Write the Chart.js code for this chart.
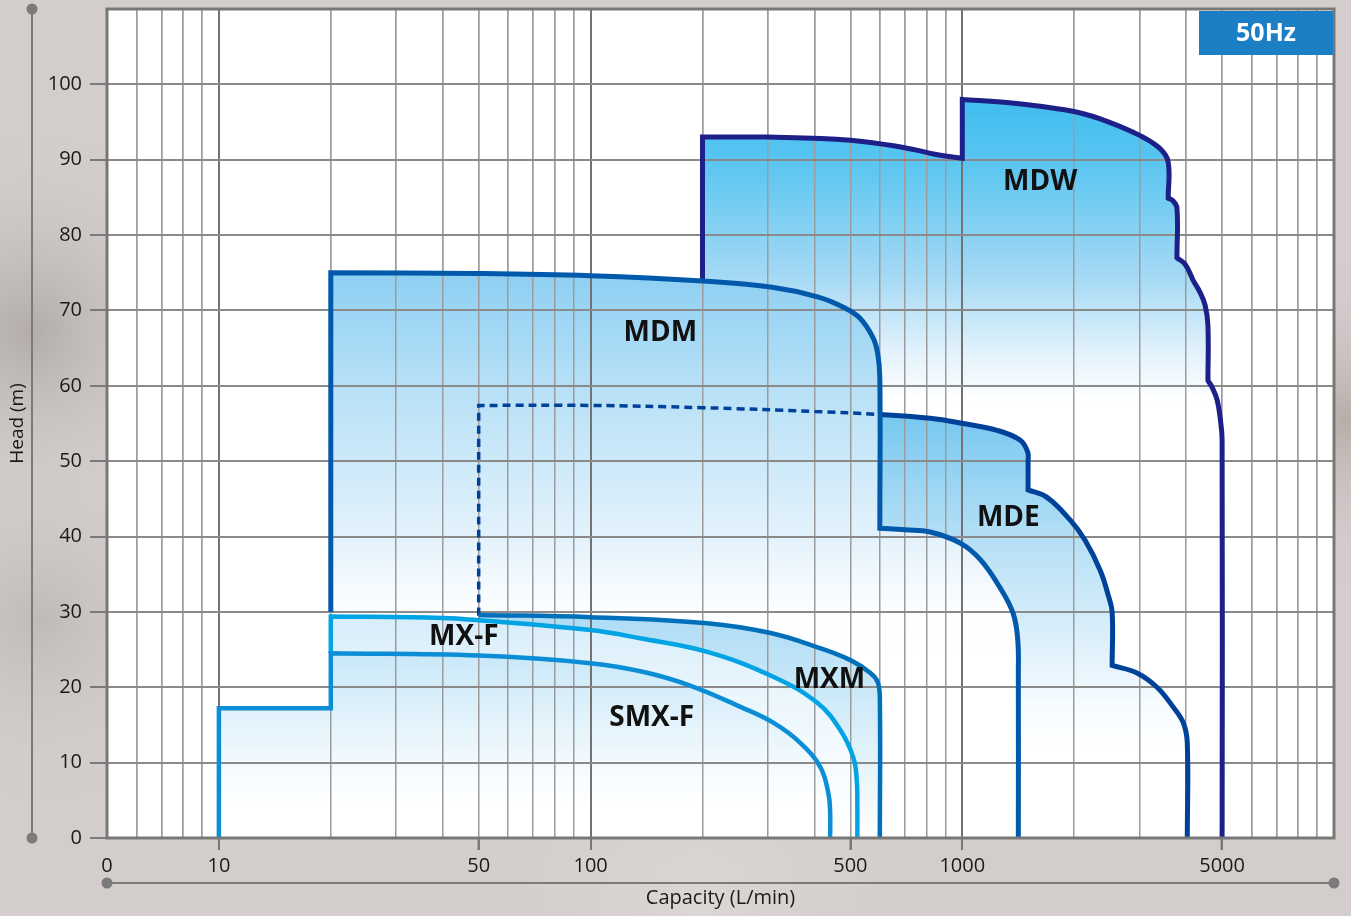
<!DOCTYPE html>
<html>
<head>
<meta charset="utf-8">
<title>Pump ranges 50Hz</title>
<script src="https://cdn.jsdelivr.net/npm/chart.js@4.4.1/dist/chart.umd.min.js"></script>
<style>
  html, body { margin: 0; padding: 0; background: #d3cecb; }
  #wrap { width: 1351px; height: 916px; }
</style>
</head>
<body>
<div id="wrap"><canvas id="graph" width="1351" height="916"></canvas></div>
<script>
// outline of each pump range, capacity (L/min) against head (m)
const smxfQ = [10, 10, 20, 20, 50, 100, 140, 186, 253, 310, 367, 415, 436, 441, 441]
const smxfH = [0, 17.2, 17.2, 24.5, 24.2, 23.2, 22.0, 20.2, 17.4, 15.3, 12.6, 9.4, 6.0, 3.5, 0]

const mxfQ = [20, 20, 40, 50, 100, 136, 206, 310, 408, 470, 509, 520, 522, 522]
const mxfH = [24.5, 29.4, 29.2, 28.9, 27.6, 26.5, 24.7, 21.4, 17.9, 14.3, 10.7, 7.7, 4, 0]

const mxmQ = [50, 100, 206, 305, 408, 500, 566, 592, 600, 600]
const mxmH = [29.6, 29.3, 28.5, 27.2, 25.3, 23.6, 21.9, 20.7, 18.5, 0]

const mdmQ = [20, 20, 50, 100, 200, 305, 408, 480, 530, 575, 592, 600, 600, 700, 820, 990, 1120, 1260, 1370, 1410, 1415, 1415]
const mdmH = [30, 75, 74.9, 74.6, 73.9, 73.1, 71.8, 70.4, 69.0, 66.4, 64.3, 61, 41.1, 40.9, 40.6, 39.1, 36.9, 33.3, 29.8, 26.3, 22, 0]

// MDE is dashed up to 600 L/min
const mdeQ = [50, 50, 100, 200, 400, 600, 820, 1006, 1240, 1430, 1500, 1503, 1503, 1690, 1950, 2140, 2350, 2470, 2530, 2530, 2950, 3340, 3690, 3930, 4030, 4030]
const mdeH = [29.5, 57.4, 57.4, 57.1, 56.6, 56.2, 55.7, 55.0, 54.1, 52.8, 51.2, 50, 46.2, 45.2, 42.2, 39.5, 35.5, 32.2, 30, 22.9, 21.9, 20.0, 17.4, 15.3, 12.6, 0]

const mdwQ = [200, 200, 300, 500, 700, 850, 1000, 1000, 1320, 1620, 2040, 2450, 3010, 3400, 3580, 3580, 3680, 3780, 3780, 3980, 4180, 4360, 4500, 4580, 4580, 4700, 4850, 4950, 5000, 5000]
const mdwH = [74, 93, 93, 92.6, 91.6, 90.7, 90.2, 98, 97.6, 97.1, 96.3, 95.1, 93.2, 91.5, 89.7, 84.9, 84.6, 83.6, 77, 76.1, 74.0, 72.4, 70.7, 68.0, 60.7, 59.8, 58.1, 55.4, 52.8, 0]

// points where the outline has a hard corner (index into the arrays above)
const smxfCorners = [1, 2, 3]
const mxfCorners = [1]
const mxmCorners = []
const mdmCorners = [1, 12]
const mdeCorners = [1, 12, 19]
const mdwCorners = [1, 6, 7, 15, 18, 24]

const modelNames = ['MDW', 'MDM', 'MDE', 'MX-F', 'MXM', 'SMX-F']
const labelQ = [1620, 154, 1330, 45.6, 439, 146]
const labelH = [87.1, 67.0, 42.4, 26.7, 21.0, 15.9]

const xGrid = [5, 6, 7, 8, 9, 10, 20, 30, 40, 50, 60, 70, 80, 90, 100, 200, 300, 400, 500, 600, 700, 800, 900,
  1000, 2000, 3000, 4000, 5000, 6000, 7000, 8000, 9000, 10000]
const xLabelValues = [5, 10, 50, 100, 500, 1000, 5000]
const xLabelText = ['0', '10', '50', '100', '500', '1000', '5000']
const decades = [10, 100, 1000, 10000]

// a corner point is given twice so the smoothing keeps it sharp
const toPoints = (qs, hs, corners) => {
  const pts = []
  qs.forEach((q, i) => {
    pts.push({ x: q, y: hs[i] })
    if (corners.includes(i)) pts.push({ x: q, y: hs[i] })
  })
  return pts
}

// vertical fade for each area, given as [head, colour]
const shade = (stops) => (ctx) => {
  const { chart } = ctx
  if (!chart.chartArea) return 'rgba(0,0,0,0)'
  const y = chart.scales.y
  const top = y.getPixelForValue(stops[0][0])
  const bot = y.getPixelForValue(stops[stops.length - 1][0])
  const g = chart.ctx.createLinearGradient(0, top, 0, bot)
  stops.forEach(([v, c]) => g.addColorStop((y.getPixelForValue(v) - top) / (bot - top), c))
  return g
}

const area = (label, qs, hs, corners, line, width, stops, extra = {}) => ({
  label,
  data: toPoints(qs, hs, corners),
  borderColor: line,
  borderWidth: width,
  backgroundColor: shade(stops),
  fill: 'origin',
  pointRadius: 0,
  tension: 0.4,
  ...extra,
})

const dashedPart = (ctx) => ctx.chart.data.datasets[ctx.datasetIndex].data[ctx.p1DataIndex].x <= 600

// first in list is drawn on top
const datasets = [
  area('SMX-F', smxfQ, smxfH, smxfCorners, '#0b8ed6', 4.5, [[24.5, '#c9e8f9'], [16, '#e1f2fb'], [9, '#f5fbfe'], [4, '#ffffff']]),
  area('MX-F', mxfQ, mxfH, mxfCorners, '#00a3e4', 4.5, [[29.5, '#d6edfa'], [20, '#e9f5fc'], [8, '#f8fcff'], [0, '#ffffff']]),
  area('MXM', mxmQ, mxmH, mxmCorners, '#0070ba', 4.5, [[29.5, '#addcf5'], [17, '#d3ecf9'], [5, '#f2f9fe'], [0, '#ffffff']]),
  area('MDM', mdmQ, mdmH, mdmCorners, '#0059aa', 5, [[75, '#8dcff2'], [61, '#b4dff6'], [50, '#cde9f9'], [40, '#e3f2fc'], [31, '#fbfdff'], [25, '#ffffff']]),
  area('MDE', mdeQ, mdeH, mdeCorners, '#00419a', 5, [[56, '#76c8f0'], [47, '#9bd5f3'], [34, '#c7e7f8'], [25, '#e0f1fb'], [18, '#f5fbfe'], [12, '#ffffff']], {
    segment: {
      borderDash: (ctx) => (dashedPart(ctx) ? [8, 5] : undefined),
      borderWidth: (ctx) => (dashedPart(ctx) ? 3.5 : undefined),
    },
  }),
  area('MDW', mdwQ, mdwH, mdwCorners, '#1d2088', 5, [[98, '#40bdef'], [90, '#58c5f1'], [75, '#a2d8f4'], [64, '#e4f3fc'], [58, '#ffffff']]),
]

const decor = {
  id: 'decor',
  beforeDraw(chart) {
    const { ctx, width, height, chartArea: a } = chart
    ctx.save()
    ctx.fillStyle = '#d3cecb'
    ctx.fillRect(0, 0, width, height)
    const blot = (x, y, r, c) => {
      const g = ctx.createRadialGradient(x, y, 0, x, y, r)
      g.addColorStop(0, c)
      g.addColorStop(1, 'rgba(211,206,203,0)')
      ctx.fillStyle = g
      ctx.fillRect(0, 0, width, height)
    }
    blot(30, 330, 200, 'rgba(165,158,155,0.7)')
    blot(40, 620, 180, 'rgba(175,168,165,0.5)')
    blot(1345, 420, 160, 'rgba(160,154,151,0.6)')
    blot(700, 905, 300, 'rgba(225,221,218,0.6)')
    ctx.fillStyle = '#ffffff'
    ctx.fillRect(a.left, a.top, a.right - a.left, a.bottom - a.top)
    ctx.restore()
  },
  beforeDatasetsDraw(chart) {
    // grid goes over the shaded areas but under the outlines
    chart.scales.x.drawGrid(chart.chartArea)
    chart.scales.y.drawGrid(chart.chartArea)
  },
  afterDatasetsDraw(chart) {
    const { ctx, chartArea: a, scales } = chart
    ctx.save()
    ctx.strokeStyle = '#787878'
    ctx.lineWidth = 3
    ctx.strokeRect(a.left, a.top, a.right - a.left, a.bottom - a.top)

    ctx.fillStyle = '#111'
    ctx.font = 'bold 28px "Open Sans"'
    ctx.textAlign = 'center'
    ctx.textBaseline = 'middle'
    modelNames.forEach((n, i) => {
      ctx.fillText(n, scales.x.getPixelForValue(labelQ[i]), scales.y.getPixelForValue(labelH[i]))
    })

    ctx.fillStyle = '#1a7fc4'
    ctx.fillRect(a.right - 135, a.top + 2, 134, 44)
    ctx.fillStyle = '#ffffff'
    ctx.font = 'bold 25px "Open Sans"'
    ctx.fillText('50Hz', a.right - 68, a.top + 25)
    ctx.restore()
  },
  afterDraw(chart) {
    const { ctx, chartArea: a } = chart
    ctx.save()
    ctx.strokeStyle = '#7a7a7a'
    ctx.fillStyle = '#7a7a7a'
    ctx.lineWidth = 2
    const yx = 32
    const xy = 883
    ctx.beginPath()
    ctx.moveTo(yx, a.top)
    ctx.lineTo(yx, a.bottom)
    ctx.moveTo(a.left, xy)
    ctx.lineTo(a.right, xy)
    ctx.stroke()
    ;[[yx, a.top], [yx, a.bottom], [a.left, xy], [a.right, xy]].forEach(([x, y]) => {
      ctx.beginPath()
      ctx.arc(x, y, 5.5, 0, Math.PI * 2)
      ctx.fill()
    })
    ctx.restore()
  },
}

new Chart(document.getElementById('graph'), {
  type: 'line',
  data: { datasets },
  plugins: [decor],
  options: {
    responsive: false,
    animation: false,
    devicePixelRatio: 1,
    events: [],
    layout: { padding: { top: 9, right: 17, left: 0, bottom: 0 } },
    plugins: {
      legend: { display: false },
      tooltip: { enabled: false },
      filler: { drawTime: 'beforeDatasetsDraw' },
    },
    scales: {
      x: {
        type: 'logarithmic',
        min: 5,
        max: 10000,
        afterBuildTicks: (scale) => {
          scale.ticks = xGrid.map((v) => ({ value: v }))
        },
        afterFit: (scale) => {
          scale.height = 78
          scale.paddingLeft = 0
          scale.paddingRight = 0
        },
        border: { display: false },
        grid: {
          color: (ctx) => (ctx.tick && decades.includes(ctx.tick.value) ? '#737373' : '#9c9c9c'),
          lineWidth: (ctx) => (ctx.tick && decades.includes(ctx.tick.value) ? 2 : 1.5),
          tickLength: 12,
          tickWidth: 2,
          tickColor: (ctx) =>
            ctx.tick && ctx.tick.value !== 5 && xLabelValues.includes(ctx.tick.value) ? '#777' : 'rgba(0,0,0,0)',
        },
        ticks: {
          autoSkip: false,
          maxRotation: 0,
          minRotation: 0,
          padding: 4,
          color: '#1a1a1a',
          font: { family: 'Open Sans', size: 20 },
          callback: (v) => {
            const i = xLabelValues.indexOf(v)
            return i >= 0 ? xLabelText[i] : ''
          },
        },
        title: {
          display: true,
          text: 'Capacity (L/min)',
          color: '#1a1a1a',
          font: { family: 'Open Sans', size: 20 },
          padding: { top: 0, bottom: 6 },
        },
      },
      y: {
        min: 0,
        max: 110,
        afterFit: (scale) => {
          scale.width = 107
          scale.paddingTop = 0
          scale.paddingBottom = 0
        },
        border: { display: false },
        grid: {
          color: '#8a8a8a',
          lineWidth: 2,
          tickLength: 17,
          tickWidth: 2,
          tickColor: (ctx) => (ctx.tick && ctx.tick.value === 110 ? 'rgba(0,0,0,0)' : '#7a7a7a'),
        },
        ticks: {
          stepSize: 10,
          padding: 8,
          color: '#1a1a1a',
          font: { family: 'Open Sans', size: 20 },
          callback: (v) => (v === 110 ? '' : v),
        },
        title: {
          display: true,
          text: 'Head (m)',
          color: '#1a1a1a',
          font: { family: 'Open Sans', size: 19 },
          padding: { top: 6, bottom: 0 },
        },
      },
    },
  },
})
</script>
</body>
</html>
